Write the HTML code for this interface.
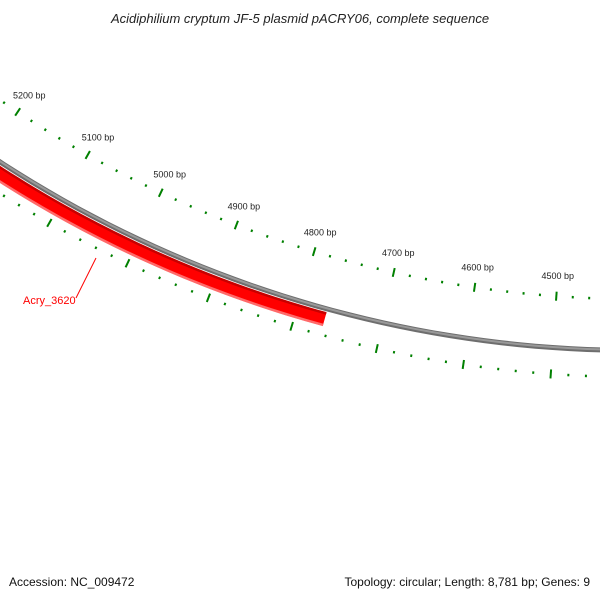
<!DOCTYPE html>
<html><head><meta charset="utf-8"><style>
html,body{margin:0;padding:0;background:#fff}
svg{display:block;font-family:"Liberation Sans","DejaVu Sans",sans-serif}
</style></head><body>
<svg width="600" height="600" viewBox="0 0 600 600">
<text x="300" y="23" text-anchor="middle" font-size="13" font-style="italic" fill="#222">Acidiphilium cryptum JF-5 plasmid pACRY06, complete sequence</text>
<g id="g-back"></g>
<g id="g-genes"></g>
<g id="g-ticks"></g>
<g id="g-labels"></g>
<line x1="76" y1="298" x2="96" y2="258" stroke="#f00" stroke-width="1"/>
<text x="23" y="304" font-size="11" fill="#f00">Acry_3620</text>
<text x="9" y="586" font-size="12" fill="#111">Accession: NC_009472</text>
<text x="590" y="586" text-anchor="end" font-size="12" fill="#111">Topology: circular; Length: 8,781 bp; Genes: 9</text>
</svg>
<script>
const tickBp = [4400,4420,4440,4460,4480,4500,4520,4540,4560,4580,4600,4620,4640,4660,4680,4700,4720,4740,4760,4780,4800,4820,4840,4860,4880,4900,4920,4940,4960,4980,5000,5020,5040,5060,5080,5100,5120,5140,5160,5180,5200,5220,5240,5260,5280,5300];
const labelBp = [4500,4600,4700,4800,4900,5000,5100,5200];
const labelText = ["4500 bp","4600 bp","4700 bp","4800 bp","4900 bp","5000 bp","5100 bp","5200 bp"];
const geneStart = [4766];
const geneEnd = [5400];
const geneNames = ["Acry_3620"];

const CX=635.6, CY=-815, DEG0=4.08, DPB=0.0423, BP0=4500;
const NS='http://www.w3.org/2000/svg';
function ang(bp){return (DEG0+(bp-BP0)*DPB)*Math.PI/180;}
function pt(bp,r){const a=ang(bp);return [CX-r*Math.sin(a), CY+r*Math.cos(a)];}
function arc(b1,b2,r){let d='';for(let i=0;i<=60;i++){const b=b1+(b2-b1)*i/60;const p=pt(b,r);d+=(i?'L':'M')+p[0].toFixed(2)+' '+p[1].toFixed(2);}return d;}
function mk(tag,attrs,parent){const e=document.createElementNS(NS,tag);for(const k in attrs)e.setAttribute(k,attrs[k]);parent.appendChild(e);return e;}

const gb=document.getElementById('g-back');
let e=mk('path',{d:arc(4300,5500,1165.5),fill:'none',stroke:'#6e6e6e','stroke-width':5},gb);


e=mk('path',{d:arc(4300,5500,1165),fill:'none',stroke:'#999','stroke-width':2},gb);



const gg=document.getElementById('g-genes');
geneStart.forEach((s,i)=>{
  let g=mk('path',{d:arc(s,geneEnd[i],1176),fill:'none',stroke:'#f00','stroke-width':14},gg);
  
  
  let h=mk('path',{d:arc(s,geneEnd[i],1182),fill:'none',stroke:'#ff6a6a','stroke-width':2.5},gg);
  
  
  let k=mk('path',{d:arc(s,geneEnd[i],1170),fill:'none',stroke:'#c80000','stroke-width':2.5},gg);
  
  
});

const gt=document.getElementById('g-ticks');
tickBp.forEach(b=>{
  const major=(b%100===0);
  [[1114,major?9:2.5],[1192,major?9:2.5]].forEach(([r,len],j)=>{
    const p1=pt(b,r-len/2),p2=pt(b,r+len/2);
    const l=mk('line',{x1:p1[0],y1:p1[1],x2:p2[0],y2:p2[1],stroke:'#008000','stroke-width':2},gt);
    
    
  });
});

const gl=document.getElementById('g-labels');
labelBp.forEach((b,i)=>{
  const p=pt(b,1093);
  const t=mk('text',{x:p[0].toFixed(1),y:(p[1]+4).toFixed(1),'text-anchor':'middle','font-size':9,fill:'#222'},gl);
  t.textContent=labelText[i];
  
  
});
</script>
</body></html>
